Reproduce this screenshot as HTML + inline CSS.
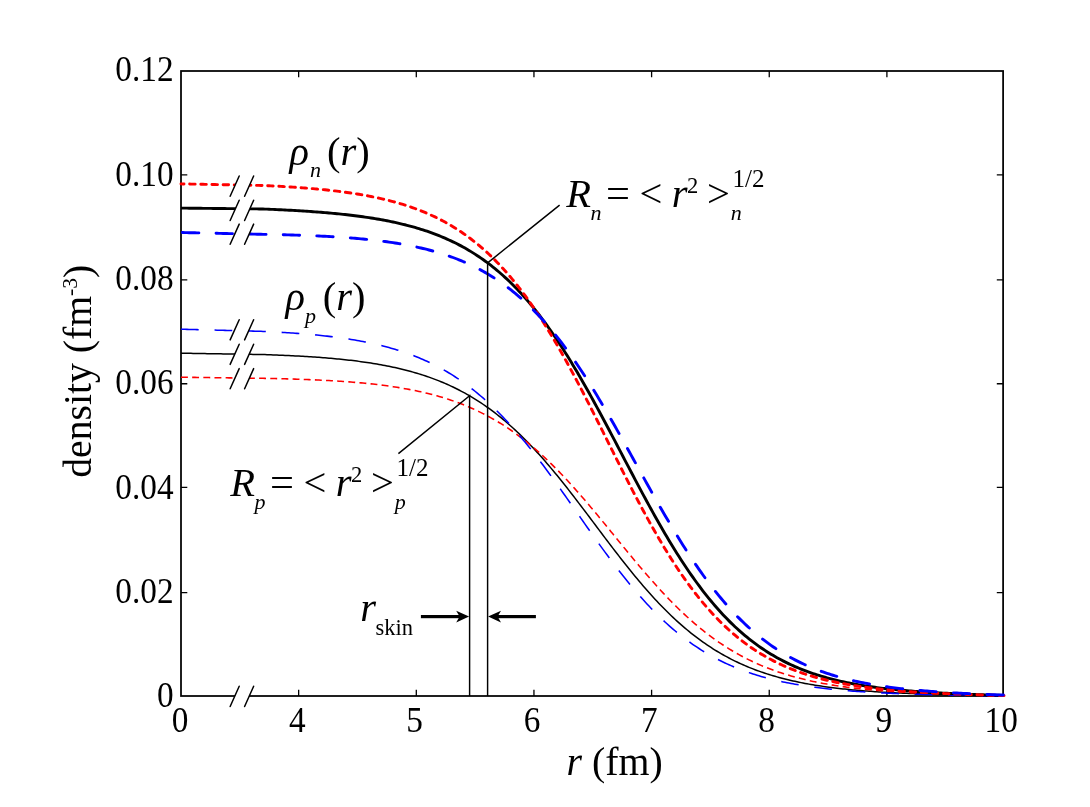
<!DOCTYPE html>
<html><head><meta charset="utf-8"><title>density</title>
<style>html,body{margin:0;padding:0;background:#fff;}body{width:1090px;height:807px;overflow:hidden;font-family:"Liberation Serif",serif;}svg{display:block;will-change:transform;}</style></head>
<body>
<svg width="1090" height="807" viewBox="0 0 1090 807">
<rect width="1090" height="807" fill="#fff"/>
<rect x="181.0" y="71.0" width="822.1" height="625.0" fill="none" stroke="#000" stroke-width="1.75"/>
<path d="M298.65,696.0 V689.7 M298.65,71.0 V77.3 M416.30,696.0 V689.7 M416.30,71.0 V77.3 M533.95,696.0 V689.7 M533.95,71.0 V77.3 M651.60,696.0 V689.7 M651.60,71.0 V77.3 M769.25,696.0 V689.7 M769.25,71.0 V77.3 M886.90,696.0 V689.7 M886.90,71.0 V77.3 M181.0,592.56 H187.3 M1003.1,592.56 H996.8000000000001 M181.0,487.45 H187.3 M1003.1,487.45 H996.8000000000001 M181.0,383.74 H187.3 M1003.1,383.74 H996.8000000000001 M181.0,279.97 H187.3 M1003.1,279.97 H996.8000000000001 M181.0,174.93 H187.3 M1003.1,174.93 H996.8000000000001" stroke="#000" stroke-width="1.3" fill="none"/>
<g fill="none" stroke-linejoin="round">
<path d="M181.0,353.20 L183.0,353.23 L185.0,353.27 L187.0,353.30 L189.0,353.33 L191.0,353.36 L193.0,353.40 L195.0,353.43 L197.0,353.46 L199.0,353.49 L201.0,353.53 L203.0,353.56 L205.0,353.59 L207.0,353.63 L209.0,353.66 L211.0,353.69 L213.0,353.72 L215.0,353.76 L217.0,353.79 L219.0,353.82 L221.0,353.85 L223.0,353.89 L225.0,353.92 L227.0,353.95 L229.0,353.99 L231.0,354.02 L233.0,354.05 L235.0,354.08 L237.0,354.12 L239.0,354.15 L241.0,354.18 L243.0,354.22 L245.0,354.25 L247.0,354.28 L249.0,354.31 L251.0,354.35 L253.0,354.38 L255.0,354.41 L257.0,354.44 L259.0,354.48 L261.0,354.51 L263.0,354.56 L265.0,354.62 L267.0,354.69 L269.0,354.76 L271.0,354.83 L273.0,354.91 L275.0,354.99 L277.0,355.06 L279.0,355.14 L281.0,355.23 L283.0,355.31 L285.0,355.40 L287.0,355.49 L289.0,355.59 L291.0,355.68 L293.0,355.78 L295.0,355.88 L297.0,355.99 L299.0,356.10 L301.0,356.21 L303.0,356.32 L305.0,356.44 L307.0,356.56 L309.0,356.69 L311.0,356.82 L313.0,356.95 L315.0,357.09 L317.0,357.23 L319.0,357.37 L321.0,357.52 L323.0,357.68 L325.0,357.83 L327.0,358.00 L329.0,358.17 L331.0,358.34 L333.0,358.52 L335.0,358.70 L337.0,358.89 L339.0,359.08 L341.0,359.28 L343.0,359.49 L345.0,359.70 L347.0,359.92 L349.0,360.14 L351.0,360.37 L353.0,360.61 L355.0,360.86 L357.0,361.11 L359.0,361.37 L361.0,361.64 L363.0,361.91 L365.0,362.20 L367.0,362.49 L369.0,362.79 L371.0,363.10 L373.0,363.42 L375.0,363.74 L377.0,364.08 L379.0,364.43 L381.0,364.78 L383.0,365.15 L385.0,365.53 L387.0,365.92 L389.0,366.32 L391.0,366.73 L393.0,367.15 L395.0,367.59 L397.0,368.03 L399.0,368.49 L401.0,368.97 L403.0,369.45 L405.0,369.95 L407.0,370.47 L409.0,370.99 L411.0,371.54 L413.0,372.10 L415.0,372.67 L417.0,373.26 L419.0,373.86 L421.0,374.49 L423.0,375.13 L425.0,375.78 L427.0,376.46 L429.0,377.15 L431.0,377.86 L433.0,378.59 L435.0,379.34 L437.0,380.11 L439.0,380.90 L441.0,381.71 L443.0,382.54 L445.0,383.40 L447.0,384.27 L449.0,385.17 L451.0,386.09 L453.0,387.03 L455.0,388.00 L457.0,388.99 L459.0,390.01 L461.0,391.05 L463.0,392.11 L465.0,393.20 L467.0,394.32 L469.0,395.47 L471.0,396.64 L473.0,397.84 L475.0,399.06 L477.0,400.32 L479.0,401.60 L481.0,402.91 L483.0,404.25 L485.0,405.62 L487.0,407.02 L489.0,408.45 L491.0,409.91 L493.0,411.40 L495.0,412.92 L497.0,414.48 L499.0,416.06 L501.0,417.67 L503.0,419.32 L505.0,421.00 L507.0,422.71 L509.0,424.45 L511.0,426.22 L513.0,428.03 L515.0,429.86 L517.0,431.73 L519.0,433.63 L521.0,435.56 L523.0,437.53 L525.0,439.52 L527.0,441.55 L529.0,443.60 L531.0,445.69 L533.0,447.80 L535.0,449.95 L537.0,452.12 L539.0,454.33 L541.0,456.56 L543.0,458.82 L545.0,461.10 L547.0,463.42 L549.0,465.75 L551.0,468.12 L553.0,470.51 L555.0,472.92 L557.0,475.35 L559.0,477.81 L561.0,480.28 L563.0,482.78 L565.0,485.29 L567.0,487.83 L569.0,490.38 L571.0,492.94 L573.0,495.52 L575.0,498.12 L577.0,500.72 L579.0,503.34 L581.0,505.97 L583.0,508.61 L585.0,511.25 L587.0,513.90 L589.0,516.56 L591.0,519.22 L593.0,521.88 L595.0,524.55 L597.0,527.21 L599.0,529.87 L601.0,532.53 L603.0,535.19 L605.0,537.84 L607.0,540.49 L609.0,543.12 L611.0,545.75 L613.0,548.37 L615.0,550.98 L617.0,553.57 L619.0,556.15 L621.0,558.72 L623.0,561.27 L625.0,563.81 L627.0,566.32 L629.0,568.82 L631.0,571.30 L633.0,573.75 L635.0,576.19 L637.0,578.60 L639.0,580.99 L641.0,583.35 L643.0,585.69 L645.0,588.00 L647.0,590.29 L649.0,592.55 L651.0,594.78 L653.0,596.98 L655.0,599.16 L657.0,601.30 L659.0,603.42 L661.0,605.51 L663.0,607.56 L665.0,609.59 L667.0,611.58 L669.0,613.54 L671.0,615.48 L673.0,617.38 L675.0,619.24 L677.0,621.08 L679.0,622.89 L681.0,624.66 L683.0,626.40 L685.0,628.11 L687.0,629.79 L689.0,631.43 L691.0,633.05 L693.0,634.63 L695.0,636.18 L697.0,637.70 L699.0,639.19 L701.0,640.65 L703.0,642.08 L705.0,643.47 L707.0,644.84 L709.0,646.18 L711.0,647.49 L713.0,648.77 L715.0,650.02 L717.0,651.25 L719.0,652.44 L721.0,653.61 L723.0,654.76 L725.0,655.87 L727.0,656.96 L729.0,658.02 L731.0,659.06 L733.0,660.07 L735.0,661.06 L737.0,662.03 L739.0,662.97 L741.0,663.88 L743.0,664.78 L745.0,665.65 L747.0,666.50 L749.0,667.33 L751.0,668.13 L753.0,668.92 L755.0,669.68 L757.0,670.43 L759.0,671.16 L761.0,671.86 L763.0,672.55 L765.0,673.22 L767.0,673.88 L769.0,674.51 L771.0,675.13 L773.0,675.73 L775.0,676.32 L777.0,676.89 L779.0,677.44 L781.0,677.98 L783.0,678.50 L785.0,679.01 L787.0,679.51 L789.0,679.99 L791.0,680.46 L793.0,680.91 L795.0,681.35 L797.0,681.78 L799.0,682.20 L801.0,682.61 L803.0,683.00 L805.0,683.39 L807.0,683.76 L809.0,684.12 L811.0,684.47 L813.0,684.81 L815.0,685.15 L817.0,685.47 L819.0,685.78 L821.0,686.08 L823.0,686.38 L825.0,686.67 L827.0,686.95 L829.0,687.22 L831.0,687.48 L833.0,687.73 L835.0,687.98 L837.0,688.22 L839.0,688.45 L841.0,688.68 L843.0,688.90 L845.0,689.11 L847.0,689.32 L849.0,689.52 L851.0,689.71 L853.0,689.90 L855.0,690.09 L857.0,690.27 L859.0,690.44 L861.0,690.61 L863.0,690.77 L865.0,690.93 L867.0,691.08 L869.0,691.23 L871.0,691.37 L873.0,691.51 L875.0,691.65 L877.0,691.78 L879.0,691.91 L881.0,692.03 L883.0,692.15 L885.0,692.27 L887.0,692.38 L889.0,692.49 L891.0,692.60 L893.0,692.70 L895.0,692.80 L897.0,692.90 L899.0,692.99 L901.0,693.08 L903.0,693.17 L905.0,693.26 L907.0,693.34 L909.0,693.43 L911.0,693.51 L913.0,693.59 L915.0,693.66 L917.0,693.74 L919.0,693.81 L921.0,693.88 L923.0,693.95 L925.0,694.02 L927.0,694.09 L929.0,694.16 L931.0,694.22 L933.0,694.28 L935.0,694.35 L937.0,694.41 L939.0,694.47 L941.0,694.52 L943.0,694.58 L945.0,694.64 L947.0,694.69 L949.0,694.75 L951.0,694.80 L953.0,694.85 L955.0,694.91 L957.0,694.96 L959.0,695.01 L961.0,695.06 L963.0,695.11 L965.0,695.16 L967.0,695.20 L969.0,695.25 L971.0,695.30 L973.0,695.34 L975.0,695.39 L977.0,695.44 L979.0,695.48 L981.0,695.53 L983.0,695.57 L985.0,695.61 L987.0,695.66 L989.0,695.70 L991.0,695.74 L993.0,695.79 L995.0,695.83 L997.0,695.87 L999.0,695.92 L1001.0,695.96 L1003.0,696.00 L1004.0,696.02" stroke="#000000" stroke-width="1.5"/>
<path d="M181.0,377.20 L183.0,377.23 L185.0,377.26 L187.0,377.28 L189.0,377.31 L191.0,377.34 L193.0,377.37 L195.0,377.39 L197.0,377.42 L199.0,377.45 L201.0,377.48 L203.0,377.51 L205.0,377.53 L207.0,377.56 L209.0,377.59 L211.0,377.62 L213.0,377.64 L215.0,377.67 L217.0,377.70 L219.0,377.73 L221.0,377.76 L223.0,377.78 L225.0,377.81 L227.0,377.84 L229.0,377.87 L231.0,377.89 L233.0,377.92 L235.0,377.95 L237.0,377.98 L239.0,378.01 L241.0,378.03 L243.0,378.06 L245.0,378.09 L247.0,378.12 L249.0,378.14 L251.0,378.17 L253.0,378.20 L255.0,378.23 L257.0,378.26 L259.0,378.28 L261.0,378.31 L263.0,378.34 L265.0,378.38 L267.0,378.42 L269.0,378.46 L271.0,378.50 L273.0,378.54 L275.0,378.58 L277.0,378.63 L279.0,378.68 L281.0,378.73 L283.0,378.78 L285.0,378.83 L287.0,378.88 L289.0,378.94 L291.0,379.00 L293.0,379.06 L295.0,379.12 L297.0,379.18 L299.0,379.25 L301.0,379.32 L303.0,379.39 L305.0,379.46 L307.0,379.54 L309.0,379.62 L311.0,379.70 L313.0,379.79 L315.0,379.87 L317.0,379.96 L319.0,380.05 L321.0,380.15 L323.0,380.25 L325.0,380.35 L327.0,380.46 L329.0,380.57 L331.0,380.68 L333.0,380.80 L335.0,380.92 L337.0,381.04 L339.0,381.17 L341.0,381.30 L343.0,381.44 L345.0,381.58 L347.0,381.73 L349.0,381.88 L351.0,382.03 L353.0,382.19 L355.0,382.36 L357.0,382.53 L359.0,382.70 L361.0,382.88 L363.0,383.07 L365.0,383.26 L367.0,383.46 L369.0,383.67 L371.0,383.88 L373.0,384.10 L375.0,384.32 L377.0,384.55 L379.0,384.79 L381.0,385.04 L383.0,385.29 L385.0,385.55 L387.0,385.82 L389.0,386.10 L391.0,386.38 L393.0,386.68 L395.0,386.98 L397.0,387.30 L399.0,387.62 L401.0,387.95 L403.0,388.29 L405.0,388.64 L407.0,389.00 L409.0,389.37 L411.0,389.76 L413.0,390.15 L415.0,390.56 L417.0,390.98 L419.0,391.41 L421.0,391.85 L423.0,392.30 L425.0,392.77 L427.0,393.25 L429.0,393.75 L431.0,394.26 L433.0,394.78 L435.0,395.32 L437.0,395.87 L439.0,396.44 L441.0,397.02 L443.0,397.62 L445.0,398.24 L447.0,398.87 L449.0,399.52 L451.0,400.19 L453.0,400.88 L455.0,401.58 L457.0,402.30 L459.0,403.05 L461.0,403.81 L463.0,404.59 L465.0,405.39 L467.0,406.21 L469.0,407.06 L471.0,407.92 L473.0,408.81 L475.0,409.72 L477.0,410.65 L479.0,411.60 L481.0,412.58 L483.0,413.58 L485.0,414.60 L487.0,415.65 L489.0,416.73 L491.0,417.83 L493.0,418.95 L495.0,420.10 L497.0,421.28 L499.0,422.48 L501.0,423.71 L503.0,424.96 L505.0,426.25 L507.0,427.56 L509.0,428.90 L511.0,430.26 L513.0,431.66 L515.0,433.08 L517.0,434.54 L519.0,436.02 L521.0,437.52 L523.0,439.06 L525.0,440.63 L527.0,442.23 L529.0,443.85 L531.0,445.51 L533.0,447.19 L535.0,448.90 L537.0,450.65 L539.0,452.42 L541.0,454.22 L543.0,456.04 L545.0,457.90 L547.0,459.78 L549.0,461.70 L551.0,463.63 L553.0,465.60 L555.0,467.60 L557.0,469.61 L559.0,471.66 L561.0,473.73 L563.0,475.83 L565.0,477.95 L567.0,480.09 L569.0,482.26 L571.0,484.45 L573.0,486.66 L575.0,488.89 L577.0,491.15 L579.0,493.42 L581.0,495.71 L583.0,498.02 L585.0,500.34 L587.0,502.69 L589.0,505.04 L591.0,507.41 L593.0,509.80 L595.0,512.19 L597.0,514.60 L599.0,517.01 L601.0,519.44 L603.0,521.87 L605.0,524.31 L607.0,526.75 L609.0,529.20 L611.0,531.65 L613.0,534.11 L615.0,536.56 L617.0,539.02 L619.0,541.47 L621.0,543.92 L623.0,546.37 L625.0,548.81 L627.0,551.24 L629.0,553.67 L631.0,556.09 L633.0,558.50 L635.0,560.90 L637.0,563.29 L639.0,565.67 L641.0,568.03 L643.0,570.38 L645.0,572.71 L647.0,575.02 L649.0,577.32 L651.0,579.60 L653.0,581.86 L655.0,584.11 L657.0,586.33 L659.0,588.53 L661.0,590.70 L663.0,592.86 L665.0,594.99 L667.0,597.10 L669.0,599.18 L671.0,601.24 L673.0,603.27 L675.0,605.27 L677.0,607.25 L679.0,609.21 L681.0,611.13 L683.0,613.03 L685.0,614.90 L687.0,616.74 L689.0,618.55 L691.0,620.34 L693.0,622.09 L695.0,623.82 L697.0,625.52 L699.0,627.19 L701.0,628.83 L703.0,630.44 L705.0,632.03 L707.0,633.58 L709.0,635.10 L711.0,636.60 L713.0,638.07 L715.0,639.51 L717.0,640.92 L719.0,642.30 L721.0,643.66 L723.0,644.98 L725.0,646.28 L727.0,647.56 L729.0,648.80 L731.0,650.02 L733.0,651.22 L735.0,652.38 L737.0,653.52 L739.0,654.64 L741.0,655.73 L743.0,656.80 L745.0,657.84 L747.0,658.85 L749.0,659.85 L751.0,660.82 L753.0,661.77 L755.0,662.69 L757.0,663.59 L759.0,664.48 L761.0,665.34 L763.0,666.17 L765.0,666.99 L767.0,667.79 L769.0,668.57 L771.0,669.33 L773.0,670.06 L775.0,670.79 L777.0,671.49 L779.0,672.17 L781.0,672.84 L783.0,673.49 L785.0,674.12 L787.0,674.74 L789.0,675.34 L791.0,675.92 L793.0,676.49 L795.0,677.04 L797.0,677.58 L799.0,678.10 L801.0,678.61 L803.0,679.11 L805.0,679.59 L807.0,680.06 L809.0,680.52 L811.0,680.97 L813.0,681.40 L815.0,681.82 L817.0,682.23 L819.0,682.63 L821.0,683.01 L823.0,683.39 L825.0,683.75 L827.0,684.11 L829.0,684.46 L831.0,684.79 L833.0,685.12 L835.0,685.44 L837.0,685.74 L839.0,686.04 L841.0,686.33 L843.0,686.62 L845.0,686.89 L847.0,687.16 L849.0,687.42 L851.0,687.67 L853.0,687.91 L855.0,688.15 L857.0,688.38 L859.0,688.61 L861.0,688.83 L863.0,689.04 L865.0,689.24 L867.0,689.44 L869.0,689.64 L871.0,689.82 L873.0,690.01 L875.0,690.18 L877.0,690.36 L879.0,690.52 L881.0,690.69 L883.0,690.84 L885.0,691.00 L887.0,691.14 L889.0,691.29 L891.0,691.43 L893.0,691.56 L895.0,691.70 L897.0,691.82 L899.0,691.95 L901.0,692.07 L903.0,692.19 L905.0,692.30 L907.0,692.41 L909.0,692.52 L911.0,692.63 L913.0,692.73 L915.0,692.83 L917.0,692.93 L919.0,693.03 L921.0,693.12 L923.0,693.21 L925.0,693.30 L927.0,693.39 L929.0,693.48 L931.0,693.56 L933.0,693.64 L935.0,693.72 L937.0,693.80 L939.0,693.88 L941.0,693.95 L943.0,694.03 L945.0,694.10 L947.0,694.17 L949.0,694.24 L951.0,694.31 L953.0,694.37 L955.0,694.44 L957.0,694.50 L959.0,694.57 L961.0,694.63 L963.0,694.69 L965.0,694.75 L967.0,694.81 L969.0,694.87 L971.0,694.93 L973.0,694.98 L975.0,695.04 L977.0,695.10 L979.0,695.15 L981.0,695.20 L983.0,695.26 L985.0,695.31 L987.0,695.36 L989.0,695.42 L991.0,695.47 L993.0,695.52 L995.0,695.57 L997.0,695.62 L999.0,695.67 L1001.0,695.72 L1003.0,695.77 L1004.0,695.79" stroke="#ff0000" stroke-width="1.55" stroke-dasharray="6.9 4.26" stroke-linecap="butt" stroke-dashoffset="0"/>
<path d="M181.0,329.20 L183.0,329.25 L185.0,329.31 L187.0,329.36 L189.0,329.41 L191.0,329.47 L193.0,329.52 L195.0,329.57 L197.0,329.63 L199.0,329.68 L201.0,329.73 L203.0,329.78 L205.0,329.84 L207.0,329.89 L209.0,329.94 L211.0,330.00 L213.0,330.05 L215.0,330.10 L217.0,330.16 L219.0,330.21 L221.0,330.26 L223.0,330.32 L225.0,330.37 L227.0,330.42 L229.0,330.48 L231.0,330.53 L233.0,330.58 L235.0,330.64 L237.0,330.69 L239.0,330.74 L241.0,330.79 L243.0,330.85 L245.0,330.90 L247.0,330.95 L249.0,331.01 L251.0,331.06 L253.0,331.11 L255.0,331.17 L257.0,331.22 L259.0,331.27 L261.0,331.33 L263.0,331.40 L265.0,331.49 L267.0,331.58 L269.0,331.68 L271.0,331.78 L273.0,331.88 L275.0,331.98 L277.0,332.09 L279.0,332.20 L281.0,332.32 L283.0,332.44 L285.0,332.56 L287.0,332.68 L289.0,332.81 L291.0,332.95 L293.0,333.08 L295.0,333.22 L297.0,333.37 L299.0,333.52 L301.0,333.67 L303.0,333.83 L305.0,333.99 L307.0,334.16 L309.0,334.33 L311.0,334.51 L313.0,334.69 L315.0,334.88 L317.0,335.08 L319.0,335.28 L321.0,335.48 L323.0,335.69 L325.0,335.91 L327.0,336.14 L329.0,336.37 L331.0,336.61 L333.0,336.85 L335.0,337.11 L337.0,337.37 L339.0,337.63 L341.0,337.91 L343.0,338.19 L345.0,338.48 L347.0,338.79 L349.0,339.09 L351.0,339.41 L353.0,339.74 L355.0,340.08 L357.0,340.43 L359.0,340.78 L361.0,341.15 L363.0,341.53 L365.0,341.92 L367.0,342.32 L369.0,342.73 L371.0,343.16 L373.0,343.59 L375.0,344.04 L377.0,344.51 L379.0,344.98 L381.0,345.47 L383.0,345.97 L385.0,346.49 L387.0,347.02 L389.0,347.57 L391.0,348.13 L393.0,348.71 L395.0,349.30 L397.0,349.91 L399.0,350.54 L401.0,351.18 L403.0,351.84 L405.0,352.52 L407.0,353.22 L409.0,353.94 L411.0,354.68 L413.0,355.44 L415.0,356.21 L417.0,357.01 L419.0,357.83 L421.0,358.67 L423.0,359.54 L425.0,360.42 L427.0,361.33 L429.0,362.26 L431.0,363.22 L433.0,364.20 L435.0,365.21 L437.0,366.24 L439.0,367.30 L441.0,368.38 L443.0,369.49 L445.0,370.63 L447.0,371.79 L449.0,372.99 L451.0,374.21 L453.0,375.46 L455.0,376.74 L457.0,378.05 L459.0,379.39 L461.0,380.76 L463.0,382.16 L465.0,383.59 L467.0,385.06 L469.0,386.55 L471.0,388.08 L473.0,389.65 L475.0,391.24 L477.0,392.87 L479.0,394.53 L481.0,396.22 L483.0,397.95 L485.0,399.71 L487.0,401.51 L489.0,403.34 L491.0,405.20 L493.0,407.10 L495.0,409.04 L497.0,411.00 L499.0,413.01 L501.0,415.04 L503.0,417.11 L505.0,419.22 L507.0,421.35 L509.0,423.52 L511.0,425.73 L513.0,427.97 L515.0,430.23 L517.0,432.54 L519.0,434.87 L521.0,437.23 L523.0,439.63 L525.0,442.05 L527.0,444.50 L529.0,446.99 L531.0,449.50 L533.0,452.03 L535.0,454.60 L537.0,457.18 L539.0,459.80 L541.0,462.43 L543.0,465.09 L545.0,467.77 L547.0,470.48 L549.0,473.20 L551.0,475.94 L553.0,478.69 L555.0,481.46 L557.0,484.25 L559.0,487.05 L561.0,489.86 L563.0,492.69 L565.0,495.52 L567.0,498.36 L569.0,501.21 L571.0,504.07 L573.0,506.93 L575.0,509.79 L577.0,512.65 L579.0,515.51 L581.0,518.37 L583.0,521.23 L585.0,524.09 L587.0,526.93 L589.0,529.78 L591.0,532.61 L593.0,535.43 L595.0,538.25 L597.0,541.05 L599.0,543.84 L601.0,546.61 L603.0,549.37 L605.0,552.11 L607.0,554.83 L609.0,557.53 L611.0,560.21 L613.0,562.87 L615.0,565.51 L617.0,568.12 L619.0,570.71 L621.0,573.27 L623.0,575.81 L625.0,578.32 L627.0,580.80 L629.0,583.26 L631.0,585.68 L633.0,588.07 L635.0,590.44 L637.0,592.77 L639.0,595.07 L641.0,597.34 L643.0,599.58 L645.0,601.78 L647.0,603.95 L649.0,606.09 L651.0,608.19 L653.0,610.26 L655.0,612.30 L657.0,614.30 L659.0,616.26 L661.0,618.20 L663.0,620.10 L665.0,621.96 L667.0,623.79 L669.0,625.58 L671.0,627.34 L673.0,629.07 L675.0,630.76 L677.0,632.42 L679.0,634.05 L681.0,635.64 L683.0,637.20 L685.0,638.73 L687.0,640.22 L689.0,641.68 L691.0,643.11 L693.0,644.51 L695.0,645.88 L697.0,647.21 L699.0,648.52 L701.0,649.80 L703.0,651.05 L705.0,652.26 L707.0,653.45 L709.0,654.61 L711.0,655.75 L713.0,656.85 L715.0,657.93 L717.0,658.99 L719.0,660.01 L721.0,661.02 L723.0,661.99 L725.0,662.94 L727.0,663.87 L729.0,664.78 L731.0,665.66 L733.0,666.52 L735.0,667.35 L737.0,668.17 L739.0,668.96 L741.0,669.73 L743.0,670.49 L745.0,671.22 L747.0,671.93 L749.0,672.62 L751.0,673.30 L753.0,673.96 L755.0,674.59 L757.0,675.22 L759.0,675.82 L761.0,676.41 L763.0,676.98 L765.0,677.54 L767.0,678.08 L769.0,678.60 L771.0,679.11 L773.0,679.61 L775.0,680.09 L777.0,680.56 L779.0,681.02 L781.0,681.46 L783.0,681.89 L785.0,682.31 L787.0,682.71 L789.0,683.11 L791.0,683.49 L793.0,683.86 L795.0,684.23 L797.0,684.58 L799.0,684.92 L801.0,685.25 L803.0,685.57 L805.0,685.88 L807.0,686.19 L809.0,686.48 L811.0,686.77 L813.0,687.04 L815.0,687.31 L817.0,687.57 L819.0,687.83 L821.0,688.07 L823.0,688.31 L825.0,688.54 L827.0,688.77 L829.0,688.99 L831.0,689.20 L833.0,689.40 L835.0,689.60 L837.0,689.80 L839.0,689.99 L841.0,690.17 L843.0,690.34 L845.0,690.52 L847.0,690.68 L849.0,690.84 L851.0,691.00 L853.0,691.15 L855.0,691.30 L857.0,691.44 L859.0,691.58 L861.0,691.72 L863.0,691.85 L865.0,691.97 L867.0,692.09 L869.0,692.21 L871.0,692.33 L873.0,692.44 L875.0,692.55 L877.0,692.65 L879.0,692.76 L881.0,692.86 L883.0,692.95 L885.0,693.04 L887.0,693.14 L889.0,693.22 L891.0,693.31 L893.0,693.39 L895.0,693.47 L897.0,693.55 L899.0,693.62 L901.0,693.69 L903.0,693.77 L905.0,693.84 L907.0,693.90 L909.0,693.97 L911.0,694.03 L913.0,694.10 L915.0,694.16 L917.0,694.22 L919.0,694.28 L921.0,694.34 L923.0,694.39 L925.0,694.45 L927.0,694.50 L929.0,694.56 L931.0,694.61 L933.0,694.66 L935.0,694.71 L937.0,694.76 L939.0,694.81 L941.0,694.86 L943.0,694.91 L945.0,694.95 L947.0,695.00 L949.0,695.04 L951.0,695.09 L953.0,695.13 L955.0,695.18 L957.0,695.22 L959.0,695.26 L961.0,695.30 L963.0,695.35 L965.0,695.39 L967.0,695.43 L969.0,695.47 L971.0,695.51 L973.0,695.55 L975.0,695.59 L977.0,695.63 L979.0,695.67 L981.0,695.71 L983.0,695.75 L985.0,695.79 L987.0,695.82 L989.0,695.86 L991.0,695.90 L993.0,695.94 L995.0,695.98 L997.0,696.02 L999.0,696.05 L1001.0,696.09 L1003.0,696.13 L1004.0,696.15" stroke="#0000ff" stroke-width="1.55" stroke-dasharray="17.7 15.87" stroke-linecap="butt" stroke-dashoffset="0"/>
<path d="M181.0,208.10 L183.0,208.12 L185.0,208.14 L187.0,208.16 L189.0,208.19 L191.0,208.21 L193.0,208.23 L195.0,208.25 L197.0,208.27 L199.0,208.29 L201.0,208.31 L203.0,208.34 L205.0,208.36 L207.0,208.38 L209.0,208.40 L211.0,208.42 L213.0,208.44 L215.0,208.46 L217.0,208.49 L219.0,208.51 L221.0,208.53 L223.0,208.55 L225.0,208.57 L227.0,208.59 L229.0,208.61 L231.0,208.64 L233.0,208.66 L235.0,208.68 L237.0,208.70 L239.0,208.72 L241.0,208.74 L243.0,208.76 L245.0,208.79 L247.0,208.81 L249.0,208.83 L251.0,208.85 L253.0,208.87 L255.0,208.89 L257.0,208.91 L259.0,208.94 L261.0,208.96 L263.0,209.01 L265.0,209.09 L267.0,209.17 L269.0,209.25 L271.0,209.33 L273.0,209.42 L275.0,209.51 L277.0,209.60 L279.0,209.70 L281.0,209.79 L283.0,209.89 L285.0,209.99 L287.0,210.09 L289.0,210.20 L291.0,210.31 L293.0,210.42 L295.0,210.53 L297.0,210.65 L299.0,210.76 L301.0,210.89 L303.0,211.01 L305.0,211.14 L307.0,211.27 L309.0,211.41 L311.0,211.55 L313.0,211.69 L315.0,211.83 L317.0,211.98 L319.0,212.14 L321.0,212.29 L323.0,212.46 L325.0,212.62 L327.0,212.79 L329.0,212.97 L331.0,213.15 L333.0,213.33 L335.0,213.52 L337.0,213.72 L339.0,213.92 L341.0,214.12 L343.0,214.33 L345.0,214.55 L347.0,214.77 L349.0,215.00 L351.0,215.24 L353.0,215.48 L355.0,215.73 L357.0,215.98 L359.0,216.24 L361.0,216.51 L363.0,216.79 L365.0,217.07 L367.0,217.37 L369.0,217.67 L371.0,217.98 L373.0,218.30 L375.0,218.62 L377.0,218.96 L379.0,219.30 L381.0,219.66 L383.0,220.02 L385.0,220.40 L387.0,220.78 L389.0,221.18 L391.0,221.59 L393.0,222.01 L395.0,222.44 L397.0,222.88 L399.0,223.34 L401.0,223.81 L403.0,224.29 L405.0,224.78 L407.0,225.29 L409.0,225.82 L411.0,226.35 L413.0,226.91 L415.0,227.48 L417.0,228.06 L419.0,228.66 L421.0,229.28 L423.0,229.91 L425.0,230.57 L427.0,231.24 L429.0,231.93 L431.0,232.63 L433.0,233.36 L435.0,234.11 L437.0,234.88 L439.0,235.67 L441.0,236.48 L443.0,237.31 L445.0,238.17 L447.0,239.05 L449.0,239.95 L451.0,240.88 L453.0,241.83 L455.0,242.81 L457.0,243.81 L459.0,244.84 L461.0,245.90 L463.0,246.99 L465.0,248.10 L467.0,249.24 L469.0,250.42 L471.0,251.62 L473.0,252.86 L475.0,254.12 L477.0,255.42 L479.0,256.75 L481.0,258.11 L483.0,259.51 L485.0,260.95 L487.0,262.41 L489.0,263.92 L491.0,265.46 L493.0,267.04 L495.0,268.65 L497.0,270.31 L499.0,272.00 L501.0,273.73 L503.0,275.50 L505.0,277.31 L507.0,279.17 L509.0,281.06 L511.0,283.00 L513.0,284.98 L515.0,287.00 L517.0,289.07 L519.0,291.18 L521.0,293.33 L523.0,295.53 L525.0,297.77 L527.0,300.06 L529.0,302.40 L531.0,304.77 L533.0,307.20 L535.0,309.67 L537.0,312.19 L539.0,314.75 L541.0,317.36 L543.0,320.01 L545.0,322.71 L547.0,325.46 L549.0,328.25 L551.0,331.08 L553.0,333.96 L555.0,336.89 L557.0,339.86 L559.0,342.87 L561.0,345.93 L563.0,349.03 L565.0,352.17 L567.0,355.35 L569.0,358.57 L571.0,361.83 L573.0,365.13 L575.0,368.47 L577.0,371.85 L579.0,375.26 L581.0,378.70 L583.0,382.18 L585.0,385.69 L587.0,389.23 L589.0,392.80 L591.0,396.40 L593.0,400.03 L595.0,403.68 L597.0,407.35 L599.0,411.05 L601.0,414.76 L603.0,418.50 L605.0,422.25 L607.0,426.02 L609.0,429.80 L611.0,433.59 L613.0,437.39 L615.0,441.20 L617.0,445.02 L619.0,448.84 L621.0,452.66 L623.0,456.48 L625.0,460.30 L627.0,464.12 L629.0,467.93 L631.0,471.74 L633.0,475.54 L635.0,479.32 L637.0,483.09 L639.0,486.85 L641.0,490.60 L643.0,494.32 L645.0,498.03 L647.0,501.71 L649.0,505.37 L651.0,509.01 L653.0,512.62 L655.0,516.20 L657.0,519.75 L659.0,523.28 L661.0,526.77 L663.0,530.23 L665.0,533.65 L667.0,537.04 L669.0,540.39 L671.0,543.71 L673.0,546.98 L675.0,550.22 L677.0,553.42 L679.0,556.57 L681.0,559.68 L683.0,562.75 L685.0,565.78 L687.0,568.77 L689.0,571.70 L691.0,574.60 L693.0,577.45 L695.0,580.25 L697.0,583.01 L699.0,585.72 L701.0,588.39 L703.0,591.01 L705.0,593.58 L707.0,596.11 L709.0,598.59 L711.0,601.02 L713.0,603.41 L715.0,605.75 L717.0,608.05 L719.0,610.30 L721.0,612.51 L723.0,614.67 L725.0,616.78 L727.0,618.85 L729.0,620.88 L731.0,622.86 L733.0,624.80 L735.0,626.70 L737.0,628.55 L739.0,630.37 L741.0,632.14 L743.0,633.87 L745.0,635.56 L747.0,637.21 L749.0,638.82 L751.0,640.40 L753.0,641.93 L755.0,643.43 L757.0,644.90 L759.0,646.32 L761.0,647.71 L763.0,649.07 L765.0,650.39 L767.0,651.68 L769.0,652.94 L771.0,654.16 L773.0,655.35 L775.0,656.52 L777.0,657.65 L779.0,658.75 L781.0,659.82 L783.0,660.86 L785.0,661.88 L787.0,662.87 L789.0,663.83 L791.0,664.77 L793.0,665.68 L795.0,666.57 L797.0,667.43 L799.0,668.27 L801.0,669.08 L803.0,669.87 L805.0,670.64 L807.0,671.39 L809.0,672.12 L811.0,672.83 L813.0,673.52 L815.0,674.18 L817.0,674.83 L819.0,675.46 L821.0,676.08 L823.0,676.67 L825.0,677.25 L827.0,677.81 L829.0,678.36 L831.0,678.89 L833.0,679.40 L835.0,679.90 L837.0,680.39 L839.0,680.86 L841.0,681.31 L843.0,681.76 L845.0,682.19 L847.0,682.61 L849.0,683.01 L851.0,683.41 L853.0,683.79 L855.0,684.16 L857.0,684.52 L859.0,684.87 L861.0,685.21 L863.0,685.54 L865.0,685.86 L867.0,686.16 L869.0,686.46 L871.0,686.76 L873.0,687.04 L875.0,687.31 L877.0,687.58 L879.0,687.84 L881.0,688.09 L883.0,688.33 L885.0,688.56 L887.0,688.79 L889.0,689.01 L891.0,689.23 L893.0,689.44 L895.0,689.64 L897.0,689.83 L899.0,690.02 L901.0,690.21 L903.0,690.39 L905.0,690.56 L907.0,690.73 L909.0,690.89 L911.0,691.05 L913.0,691.21 L915.0,691.36 L917.0,691.51 L919.0,691.65 L921.0,691.79 L923.0,691.93 L925.0,692.06 L927.0,692.19 L929.0,692.31 L931.0,692.43 L933.0,692.55 L935.0,692.67 L937.0,692.78 L939.0,692.89 L941.0,693.00 L943.0,693.11 L945.0,693.21 L947.0,693.31 L949.0,693.41 L951.0,693.50 L953.0,693.60 L955.0,693.69 L957.0,693.78 L959.0,693.87 L961.0,693.95 L963.0,694.04 L965.0,694.12 L967.0,694.20 L969.0,694.28 L971.0,694.36 L973.0,694.43 L975.0,694.51 L977.0,694.58 L979.0,694.65 L981.0,694.72 L983.0,694.79 L985.0,694.86 L987.0,694.93 L989.0,695.00 L991.0,695.06 L993.0,695.13 L995.0,695.19 L997.0,695.25 L999.0,695.31 L1001.0,695.38 L1003.0,695.44 L1004.0,695.47" stroke="#000000" stroke-width="2.9"/>
<path d="M181.0,183.90 L183.0,183.94 L185.0,183.98 L187.0,184.02 L189.0,184.05 L191.0,184.09 L193.0,184.13 L195.0,184.17 L197.0,184.21 L199.0,184.25 L201.0,184.28 L203.0,184.32 L205.0,184.36 L207.0,184.40 L209.0,184.44 L211.0,184.48 L213.0,184.51 L215.0,184.55 L217.0,184.59 L219.0,184.63 L221.0,184.67 L223.0,184.71 L225.0,184.74 L227.0,184.78 L229.0,184.82 L231.0,184.86 L233.0,184.90 L235.0,184.94 L237.0,184.97 L239.0,185.01 L241.0,185.05 L243.0,185.09 L245.0,185.13 L247.0,185.17 L249.0,185.20 L251.0,185.24 L253.0,185.28 L255.0,185.32 L257.0,185.36 L259.0,185.40 L261.0,185.43 L263.0,185.50 L265.0,185.59 L267.0,185.68 L269.0,185.78 L271.0,185.87 L273.0,185.98 L275.0,186.08 L277.0,186.18 L279.0,186.29 L281.0,186.40 L283.0,186.52 L285.0,186.64 L287.0,186.76 L289.0,186.88 L291.0,187.01 L293.0,187.14 L295.0,187.27 L297.0,187.41 L299.0,187.55 L301.0,187.70 L303.0,187.85 L305.0,188.01 L307.0,188.16 L309.0,188.33 L311.0,188.49 L313.0,188.67 L315.0,188.84 L317.0,189.03 L319.0,189.21 L321.0,189.40 L323.0,189.60 L325.0,189.81 L327.0,190.02 L329.0,190.23 L331.0,190.45 L333.0,190.68 L335.0,190.91 L337.0,191.15 L339.0,191.40 L341.0,191.66 L343.0,191.92 L345.0,192.19 L347.0,192.46 L349.0,192.75 L351.0,193.04 L353.0,193.34 L355.0,193.65 L357.0,193.97 L359.0,194.30 L361.0,194.64 L363.0,194.99 L365.0,195.35 L367.0,195.71 L369.0,196.09 L371.0,196.48 L373.0,196.88 L375.0,197.29 L377.0,197.72 L379.0,198.15 L381.0,198.60 L383.0,199.06 L385.0,199.54 L387.0,200.03 L389.0,200.53 L391.0,201.04 L393.0,201.58 L395.0,202.12 L397.0,202.68 L399.0,203.26 L401.0,203.86 L403.0,204.47 L405.0,205.10 L407.0,205.74 L409.0,206.41 L411.0,207.09 L413.0,207.79 L415.0,208.51 L417.0,209.26 L419.0,210.02 L421.0,210.80 L423.0,211.61 L425.0,212.44 L427.0,213.29 L429.0,214.16 L431.0,215.06 L433.0,215.98 L435.0,216.93 L437.0,217.90 L439.0,218.90 L441.0,219.93 L443.0,220.98 L445.0,222.07 L447.0,223.18 L449.0,224.32 L451.0,225.49 L453.0,226.69 L455.0,227.92 L457.0,229.18 L459.0,230.48 L461.0,231.81 L463.0,233.18 L465.0,234.57 L467.0,236.01 L469.0,237.48 L471.0,238.98 L473.0,240.53 L475.0,242.11 L477.0,243.73 L479.0,245.38 L481.0,247.08 L483.0,248.82 L485.0,250.60 L487.0,252.42 L489.0,254.28 L491.0,256.18 L493.0,258.13 L495.0,260.12 L497.0,262.16 L499.0,264.24 L501.0,266.36 L503.0,268.53 L505.0,270.75 L507.0,273.01 L509.0,275.32 L511.0,277.68 L513.0,280.08 L515.0,282.53 L517.0,285.03 L519.0,287.57 L521.0,290.16 L523.0,292.80 L525.0,295.49 L527.0,298.23 L529.0,301.02 L531.0,303.85 L533.0,306.73 L535.0,309.66 L537.0,312.63 L539.0,315.65 L541.0,318.72 L543.0,321.83 L545.0,324.99 L547.0,328.20 L549.0,331.45 L551.0,334.74 L553.0,338.07 L555.0,341.45 L557.0,344.87 L559.0,348.33 L561.0,351.82 L563.0,355.36 L565.0,358.93 L567.0,362.54 L569.0,366.18 L571.0,369.86 L573.0,373.57 L575.0,377.31 L577.0,381.08 L579.0,384.87 L581.0,388.70 L583.0,392.54 L585.0,396.41 L587.0,400.30 L589.0,404.21 L591.0,408.14 L593.0,412.08 L595.0,416.04 L597.0,420.01 L599.0,423.99 L601.0,427.97 L603.0,431.97 L605.0,435.97 L607.0,439.97 L609.0,443.97 L611.0,447.96 L613.0,451.96 L615.0,455.95 L617.0,459.93 L619.0,463.91 L621.0,467.87 L623.0,471.82 L625.0,475.75 L627.0,479.67 L629.0,483.57 L631.0,487.44 L633.0,491.30 L635.0,495.13 L637.0,498.94 L639.0,502.72 L641.0,506.47 L643.0,510.19 L645.0,513.88 L647.0,517.54 L649.0,521.16 L651.0,524.75 L653.0,528.30 L655.0,531.81 L657.0,535.28 L659.0,538.72 L661.0,542.11 L663.0,545.46 L665.0,548.77 L667.0,552.03 L669.0,555.25 L671.0,558.43 L673.0,561.56 L675.0,564.64 L677.0,567.68 L679.0,570.67 L681.0,573.61 L683.0,576.51 L685.0,579.35 L687.0,582.15 L689.0,584.90 L691.0,587.61 L693.0,590.26 L695.0,592.87 L697.0,595.43 L699.0,597.94 L701.0,600.40 L703.0,602.81 L705.0,605.18 L707.0,607.50 L709.0,609.77 L711.0,612.00 L713.0,614.18 L715.0,616.31 L717.0,618.40 L719.0,620.44 L721.0,622.44 L723.0,624.39 L725.0,626.30 L727.0,628.17 L729.0,630.00 L731.0,631.78 L733.0,633.52 L735.0,635.22 L737.0,636.88 L739.0,638.50 L741.0,640.09 L743.0,641.63 L745.0,643.14 L747.0,644.61 L749.0,646.04 L751.0,647.44 L753.0,648.80 L755.0,650.13 L757.0,651.42 L759.0,652.68 L761.0,653.91 L763.0,655.11 L765.0,656.27 L767.0,657.41 L769.0,658.51 L771.0,659.59 L773.0,660.64 L775.0,661.66 L777.0,662.65 L779.0,663.62 L781.0,664.56 L783.0,665.47 L785.0,666.36 L787.0,667.22 L789.0,668.06 L791.0,668.88 L793.0,669.68 L795.0,670.45 L797.0,671.20 L799.0,671.93 L801.0,672.64 L803.0,673.33 L805.0,674.00 L807.0,674.66 L809.0,675.29 L811.0,675.90 L813.0,676.50 L815.0,677.08 L817.0,677.65 L819.0,678.19 L821.0,678.73 L823.0,679.24 L825.0,679.74 L827.0,680.23 L829.0,680.70 L831.0,681.16 L833.0,681.61 L835.0,682.04 L837.0,682.46 L839.0,682.87 L841.0,683.27 L843.0,683.65 L845.0,684.02 L847.0,684.39 L849.0,684.74 L851.0,685.08 L853.0,685.41 L855.0,685.73 L857.0,686.04 L859.0,686.34 L861.0,686.64 L863.0,686.92 L865.0,687.20 L867.0,687.47 L869.0,687.73 L871.0,687.98 L873.0,688.22 L875.0,688.46 L877.0,688.69 L879.0,688.91 L881.0,689.13 L883.0,689.34 L885.0,689.54 L887.0,689.74 L889.0,689.93 L891.0,690.12 L893.0,690.30 L895.0,690.47 L897.0,690.64 L899.0,690.80 L901.0,690.96 L903.0,691.12 L905.0,691.27 L907.0,691.41 L909.0,691.56 L911.0,691.70 L913.0,691.83 L915.0,691.96 L917.0,692.09 L919.0,692.21 L921.0,692.34 L923.0,692.45 L925.0,692.57 L927.0,692.68 L929.0,692.79 L931.0,692.90 L933.0,693.00 L935.0,693.10 L937.0,693.20 L939.0,693.30 L941.0,693.40 L943.0,693.49 L945.0,693.58 L947.0,693.67 L949.0,693.75 L951.0,693.84 L953.0,693.92 L955.0,694.00 L957.0,694.08 L959.0,694.16 L961.0,694.24 L963.0,694.31 L965.0,694.38 L967.0,694.46 L969.0,694.53 L971.0,694.60 L973.0,694.67 L975.0,694.73 L977.0,694.80 L979.0,694.86 L981.0,694.93 L983.0,694.99 L985.0,695.05 L987.0,695.11 L989.0,695.18 L991.0,695.23 L993.0,695.29 L995.0,695.35 L997.0,695.41 L999.0,695.47 L1001.0,695.52 L1003.0,695.58 L1004.0,695.61" stroke="#ff0000" stroke-width="2.9" stroke-dasharray="5.5 5.65" stroke-linecap="round" stroke-dashoffset="2.5"/>
<path d="M181.0,232.50 L183.0,232.54 L185.0,232.59 L187.0,232.63 L189.0,232.68 L191.0,232.72 L193.0,232.77 L195.0,232.81 L197.0,232.86 L199.0,232.90 L201.0,232.95 L203.0,232.99 L205.0,233.04 L207.0,233.08 L209.0,233.13 L211.0,233.17 L213.0,233.22 L215.0,233.26 L217.0,233.31 L219.0,233.35 L221.0,233.40 L223.0,233.44 L225.0,233.49 L227.0,233.53 L229.0,233.58 L231.0,233.62 L233.0,233.67 L235.0,233.71 L237.0,233.76 L239.0,233.80 L241.0,233.85 L243.0,233.89 L245.0,233.94 L247.0,233.98 L249.0,234.02 L251.0,234.07 L253.0,234.11 L255.0,234.16 L257.0,234.20 L259.0,234.25 L261.0,234.29 L263.0,234.33 L265.0,234.37 L267.0,234.41 L269.0,234.44 L271.0,234.48 L273.0,234.52 L275.0,234.57 L277.0,234.61 L279.0,234.66 L281.0,234.70 L283.0,234.75 L285.0,234.80 L287.0,234.86 L289.0,234.91 L291.0,234.97 L293.0,235.03 L295.0,235.09 L297.0,235.15 L299.0,235.21 L301.0,235.28 L303.0,235.35 L305.0,235.42 L307.0,235.50 L309.0,235.58 L311.0,235.66 L313.0,235.74 L315.0,235.82 L317.0,235.91 L319.0,236.01 L321.0,236.10 L323.0,236.20 L325.0,236.30 L327.0,236.40 L329.0,236.51 L331.0,236.62 L333.0,236.74 L335.0,236.86 L337.0,236.98 L339.0,237.11 L341.0,237.24 L343.0,237.38 L345.0,237.52 L347.0,237.67 L349.0,237.82 L351.0,237.97 L353.0,238.13 L355.0,238.30 L357.0,238.47 L359.0,238.64 L361.0,238.83 L363.0,239.01 L365.0,239.21 L367.0,239.41 L369.0,239.61 L371.0,239.83 L373.0,240.05 L375.0,240.28 L377.0,240.51 L379.0,240.75 L381.0,241.00 L383.0,241.26 L385.0,241.52 L387.0,241.80 L389.0,242.08 L391.0,242.37 L393.0,242.67 L395.0,242.98 L397.0,243.30 L399.0,243.63 L401.0,243.97 L403.0,244.32 L405.0,244.68 L407.0,245.06 L409.0,245.44 L411.0,245.83 L413.0,246.24 L415.0,246.66 L417.0,247.09 L419.0,247.54 L421.0,248.00 L423.0,248.47 L425.0,248.96 L427.0,249.46 L429.0,249.98 L431.0,250.51 L433.0,251.06 L435.0,251.62 L437.0,252.20 L439.0,252.80 L441.0,253.42 L443.0,254.05 L445.0,254.70 L447.0,255.37 L449.0,256.06 L451.0,256.77 L453.0,257.50 L455.0,258.25 L457.0,259.02 L459.0,259.82 L461.0,260.63 L463.0,261.47 L465.0,262.34 L467.0,263.22 L469.0,264.13 L471.0,265.07 L473.0,266.03 L475.0,267.02 L477.0,268.04 L479.0,269.08 L481.0,270.15 L483.0,271.25 L485.0,272.37 L487.0,273.53 L489.0,274.72 L491.0,275.94 L493.0,277.19 L495.0,278.47 L497.0,279.78 L499.0,281.13 L501.0,282.51 L503.0,283.93 L505.0,285.38 L507.0,286.86 L509.0,288.39 L511.0,289.94 L513.0,291.54 L515.0,293.17 L517.0,294.84 L519.0,296.55 L521.0,298.30 L523.0,300.09 L525.0,301.92 L527.0,303.79 L529.0,305.70 L531.0,307.65 L533.0,309.64 L535.0,311.67 L537.0,313.75 L539.0,315.87 L541.0,318.03 L543.0,320.23 L545.0,322.48 L547.0,324.77 L549.0,327.10 L551.0,329.48 L553.0,331.90 L555.0,334.36 L557.0,336.87 L559.0,339.42 L561.0,342.01 L563.0,344.65 L565.0,347.33 L567.0,350.05 L569.0,352.81 L571.0,355.61 L573.0,358.46 L575.0,361.35 L577.0,364.27 L579.0,367.24 L581.0,370.24 L583.0,373.28 L585.0,376.36 L587.0,379.48 L589.0,382.63 L591.0,385.82 L593.0,389.04 L595.0,392.29 L597.0,395.57 L599.0,398.89 L601.0,402.23 L603.0,405.60 L605.0,409.00 L607.0,412.42 L609.0,415.86 L611.0,419.33 L613.0,422.82 L615.0,426.33 L617.0,429.85 L619.0,433.40 L621.0,436.95 L623.0,440.52 L625.0,444.10 L627.0,447.69 L629.0,451.29 L631.0,454.89 L633.0,458.50 L635.0,462.11 L637.0,465.72 L639.0,469.33 L641.0,472.94 L643.0,476.54 L645.0,480.14 L647.0,483.73 L649.0,487.30 L651.0,490.87 L653.0,494.43 L655.0,497.97 L657.0,501.49 L659.0,505.00 L661.0,508.49 L663.0,511.95 L665.0,515.40 L667.0,518.82 L669.0,522.21 L671.0,525.58 L673.0,528.92 L675.0,532.23 L677.0,535.51 L679.0,538.76 L681.0,541.98 L683.0,545.16 L685.0,548.31 L687.0,551.43 L689.0,554.51 L691.0,557.55 L693.0,560.55 L695.0,563.51 L697.0,566.44 L699.0,569.32 L701.0,572.16 L703.0,574.97 L705.0,577.73 L707.0,580.45 L709.0,583.13 L711.0,585.76 L713.0,588.35 L715.0,590.90 L717.0,593.41 L719.0,595.87 L721.0,598.29 L723.0,600.67 L725.0,603.00 L727.0,605.29 L729.0,607.54 L731.0,609.74 L733.0,611.91 L735.0,614.03 L737.0,616.10 L739.0,618.14 L741.0,620.13 L743.0,622.08 L745.0,623.99 L747.0,625.87 L749.0,627.70 L751.0,629.49 L753.0,631.24 L755.0,632.95 L757.0,634.63 L759.0,636.26 L761.0,637.86 L763.0,639.42 L765.0,640.95 L767.0,642.44 L769.0,643.89 L771.0,645.31 L773.0,646.70 L775.0,648.05 L777.0,649.37 L779.0,650.66 L781.0,651.92 L783.0,653.14 L785.0,654.33 L787.0,655.50 L789.0,656.63 L791.0,657.74 L793.0,658.81 L795.0,659.86 L797.0,660.89 L799.0,661.88 L801.0,662.85 L803.0,663.79 L805.0,664.71 L807.0,665.61 L809.0,666.48 L811.0,667.33 L813.0,668.15 L815.0,668.95 L817.0,669.73 L819.0,670.49 L821.0,671.23 L823.0,671.95 L825.0,672.65 L827.0,673.33 L829.0,673.99 L831.0,674.63 L833.0,675.25 L835.0,675.86 L837.0,676.45 L839.0,677.03 L841.0,677.58 L843.0,678.12 L845.0,678.65 L847.0,679.16 L849.0,679.66 L851.0,680.14 L853.0,680.61 L855.0,681.07 L857.0,681.51 L859.0,681.94 L861.0,682.36 L863.0,682.76 L865.0,683.16 L867.0,683.54 L869.0,683.91 L871.0,684.27 L873.0,684.62 L875.0,684.96 L877.0,685.29 L879.0,685.61 L881.0,685.92 L883.0,686.22 L885.0,686.51 L887.0,686.80 L889.0,687.08 L891.0,687.34 L893.0,687.60 L895.0,687.86 L897.0,688.10 L899.0,688.34 L901.0,688.57 L903.0,688.79 L905.0,689.01 L907.0,689.22 L909.0,689.43 L911.0,689.63 L913.0,689.82 L915.0,690.01 L917.0,690.20 L919.0,690.38 L921.0,690.55 L923.0,690.72 L925.0,690.89 L927.0,691.05 L929.0,691.21 L931.0,691.36 L933.0,691.51 L935.0,691.66 L937.0,691.80 L939.0,691.94 L941.0,692.07 L943.0,692.20 L945.0,692.33 L947.0,692.46 L949.0,692.58 L951.0,692.70 L953.0,692.81 L955.0,692.93 L957.0,693.04 L959.0,693.15 L961.0,693.25 L963.0,693.36 L965.0,693.46 L967.0,693.56 L969.0,693.66 L971.0,693.75 L973.0,693.85 L975.0,693.94 L977.0,694.03 L979.0,694.11 L981.0,694.20 L983.0,694.29 L985.0,694.37 L987.0,694.45 L989.0,694.53 L991.0,694.61 L993.0,694.69 L995.0,694.76 L997.0,694.84 L999.0,694.91 L1001.0,694.98 L1003.0,695.06 L1004.0,695.09" stroke="#0000ff" stroke-width="2.9" stroke-dasharray="16.4 17.2" stroke-linecap="round" stroke-dashoffset="-1.45"/>
</g>
<path d="M487.6,696.0 V262.9 L559.6,205.1 M469.6,696.0 V395.8 L398.4,453.6" stroke="#000" stroke-width="1.45" fill="none" stroke-linejoin="miter"/>
<polygon points="230.15,196.20 239.21,176.00 253.65,176.00 244.59,196.20" fill="#fff"/><path d="M230.15,196.20 L239.21,176.00 M244.59,196.20 L253.65,176.00" stroke="#000" stroke-width="1.5" stroke-linecap="round" fill="none"/>
<polygon points="230.15,220.50 239.21,200.30 253.65,200.30 244.59,220.50" fill="#fff"/><path d="M230.15,220.50 L239.21,200.30 M244.59,220.50 L253.65,200.30" stroke="#000" stroke-width="1.5" stroke-linecap="round" fill="none"/>
<polygon points="230.15,244.30 239.21,224.10 253.65,224.10 244.59,244.30" fill="#fff"/><path d="M230.15,244.30 L239.21,224.10 M244.59,244.30 L253.65,224.10" stroke="#000" stroke-width="1.5" stroke-linecap="round" fill="none"/>
<polygon points="230.15,339.90 239.21,319.70 253.65,319.70 244.59,339.90" fill="#fff"/><path d="M230.15,339.90 L239.21,319.70 M244.59,339.90 L253.65,319.70" stroke="#000" stroke-width="1.5" stroke-linecap="round" fill="none"/>
<polygon points="230.15,364.40 239.21,344.20 253.65,344.20 244.59,364.40" fill="#fff"/><path d="M230.15,364.40 L239.21,344.20 M244.59,364.40 L253.65,344.20" stroke="#000" stroke-width="1.5" stroke-linecap="round" fill="none"/>
<polygon points="230.15,388.80 239.21,368.60 253.65,368.60 244.59,388.80" fill="#fff"/><path d="M230.15,388.80 L239.21,368.60 M244.59,388.80 L253.65,368.60" stroke="#000" stroke-width="1.5" stroke-linecap="round" fill="none"/>
<polygon points="230.15,706.50 239.21,686.30 253.65,686.30 244.59,706.50" fill="#fff"/><path d="M230.15,706.50 L239.21,686.30 M244.59,706.50 L253.65,686.30" stroke="#000" stroke-width="1.5" stroke-linecap="round" fill="none"/>
<g fill="#000" stroke="none">
<rect x="420.9" y="615.0" width="40" height="3.2"/>
<polygon points="469.1,616.6 456.2,610.8 459.6,616.6 456.2,622.4"/>
<rect x="496" y="615.0" width="39.9" height="3.2"/>
<polygon points="488.1,616.6 501,610.8 497.6,616.6 501,622.4"/>
</g>
<g font-family="'Liberation Serif', serif" fill="#000">
<text transform="translate(173.6,707.3) scale(1,1.045)" font-size="33.3" text-anchor="end">0</text>
<text transform="translate(173.6,602.9) scale(1,1.045)" font-size="33.3" text-anchor="end">0.02</text>
<text transform="translate(173.6,498.5) scale(1,1.045)" font-size="33.3" text-anchor="end">0.04</text>
<text transform="translate(173.6,394.1) scale(1,1.045)" font-size="33.3" text-anchor="end">0.06</text>
<text transform="translate(173.6,289.7) scale(1,1.045)" font-size="33.3" text-anchor="end">0.08</text>
<text transform="translate(173.6,186.1) scale(1,1.045)" font-size="33.3" text-anchor="end">0.10</text>
<text transform="translate(173.6,81.0) scale(1,1.045)" font-size="33.3" text-anchor="end">0.12</text>
<text transform="translate(180.1,732.0) scale(1,1.045)" font-size="33.3" text-anchor="middle">0</text>
<text transform="translate(297.4,732.0) scale(1,1.045)" font-size="33.3" text-anchor="middle">4</text>
<text transform="translate(414.7,732.0) scale(1,1.045)" font-size="33.3" text-anchor="middle">5</text>
<text transform="translate(532.0,732.0) scale(1,1.045)" font-size="33.3" text-anchor="middle">6</text>
<text transform="translate(649.3,732.0) scale(1,1.045)" font-size="33.3" text-anchor="middle">7</text>
<text transform="translate(766.6,732.0) scale(1,1.045)" font-size="33.3" text-anchor="middle">8</text>
<text transform="translate(883.9,732.0) scale(1,1.045)" font-size="33.3" text-anchor="middle">9</text>
<text transform="translate(1001.2,732.0) scale(1,1.045)" font-size="33.3" text-anchor="middle">10</text>
<text x="566.6" y="774.6" font-size="39.8"><tspan font-style="italic">r</tspan> (fm)</text>
<text transform="translate(90.6,477.8) rotate(-90)" font-size="39.7">density (fm<tspan font-size="21.5" dy="-14">-3</tspan><tspan dy="14">)</tspan></text>
<text x="289.6" y="164.6" font-size="40.5" font-style="italic">ρ</text><text x="310.1" y="177.4" font-size="22" font-style="italic">n</text><text x="327.0" y="164.6" font-size="40.5">(<tspan font-style="italic">r</tspan>)</text>
<text x="285.4" y="310.0" font-size="40.5" font-style="italic">ρ</text><text x="305.0" y="322.8" font-size="22" font-style="italic">p</text><text x="322.79999999999995" y="310.0" font-size="40.5">(<tspan font-style="italic">r</tspan>)</text>
<text x="566.3" y="207.0" font-size="40.5" font-style="italic">R</text><text x="590.5999999999999" y="219.9" font-size="22" font-style="italic">n</text><text x="605.9" y="207.4" font-size="42.5">=</text><text x="639.5" y="207.0" font-size="40.5">&lt;</text><text x="671.8" y="207.0" font-size="40.5" font-style="italic">r</text><text x="687.0999999999999" y="193.4" font-size="22.5">2</text><text x="706.9" y="207.0" font-size="40.5">&gt;</text><text x="732.5999999999999" y="187.0" font-size="25">1/2</text><text x="730.8" y="219.9" font-size="22" font-style="italic">n</text>
<text x="230.3" y="495.7" font-size="40.5" font-style="italic">R</text><text x="254.60000000000002" y="508.59999999999997" font-size="22" font-style="italic">p</text><text x="269.90000000000003" y="496.09999999999997" font-size="42.5">=</text><text x="303.5" y="495.7" font-size="40.5">&lt;</text><text x="335.8" y="495.7" font-size="40.5" font-style="italic">r</text><text x="351.1" y="482.09999999999997" font-size="22.5">2</text><text x="370.9" y="495.7" font-size="40.5">&gt;</text><text x="396.6" y="475.7" font-size="25">1/2</text><text x="394.8" y="508.59999999999997" font-size="22" font-style="italic">p</text>
<text x="360.2" y="621.4" font-size="40.5" font-style="italic">r</text>
<text x="375.5" y="634.5" font-size="22.5">skin</text>
</g>
</svg>
</body></html>
